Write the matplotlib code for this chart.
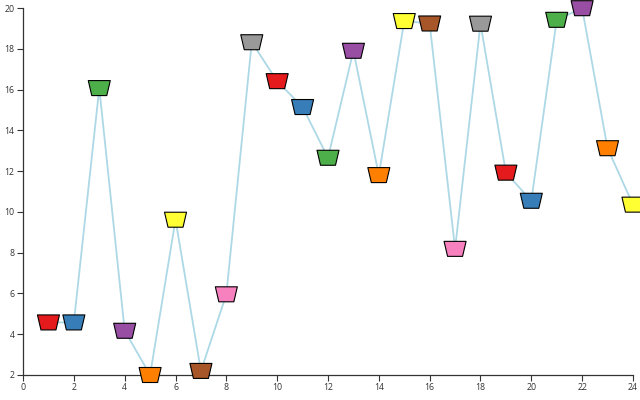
import matplotlib
matplotlib.use("Agg")
import matplotlib.pyplot as plt
from matplotlib.path import Path

X_VALUES = list(range(1, 25))
Y_VALUES = [4.58, 4.58, 16.08, 4.17, 2.0, 9.62, 2.2, 5.96, 18.33, 16.42, 15.15, 12.66,
            17.91, 11.81, 19.37, 19.25, 8.19, 19.24, 11.93, 10.55, 19.43, 20.0, 13.13, 10.36]

SET1 = ["#e41a1c", "#377eb8", "#4daf4a", "#984ea3", "#ff7f00",
        "#ffff33", "#a65628", "#f781bf", "#999999"]
POINT_COLORS = [SET1[i % len(SET1)] for i in range(len(X_VALUES))]

X_TICKS = list(range(0, 25, 2))
Y_TICKS = list(range(2, 21, 2))

# trapezoid marker, wide edge on top
TRAPEZOID = Path(
    [(-11, 7.5), (11, 7.5), (7.5, -7.5), (-7.5, -7.5), (-11, 7.5)],
    [Path.MOVETO, Path.LINETO, Path.LINETO, Path.LINETO, Path.CLOSEPOLY],
)


def main():
    plt.rcParams["font.family"] = ["Open Sans", "DejaVu Sans"]
    fig = plt.figure(figsize=(6.4, 4.0), dpi=100)
    ax = fig.add_axes([0.036, 0.0625, 0.953, 0.917])

    ax.plot(X_VALUES, Y_VALUES, color="#add8e6", linewidth=1.3, zorder=1,
            clip_on=False)
    size_pt = 22 * 0.72
    ax.scatter(X_VALUES, Y_VALUES, marker=TRAPEZOID, s=size_pt ** 2,
               c=POINT_COLORS, edgecolors="black", linewidths=0.8, zorder=3,
               clip_on=False)

    ax.set_xlim(0, 24)
    ax.set_ylim(2, 20)
    ax.set_xticks(X_TICKS)
    ax.set_yticks(Y_TICKS)
    for side in ("top", "right"):
        ax.spines[side].set_visible(False)
    for side in ("left", "bottom"):
        ax.spines[side].set_color("#333333")
        ax.spines[side].set_linewidth(0.9)
        ax.spines[side].set_zorder(2)
    ax.tick_params(length=4, width=0.8, color="#333333", labelsize=6.3,
                   labelcolor="#333333", pad=2)

    fig.savefig("out.png", dpi=100)


if __name__ == "__main__":
    main()
